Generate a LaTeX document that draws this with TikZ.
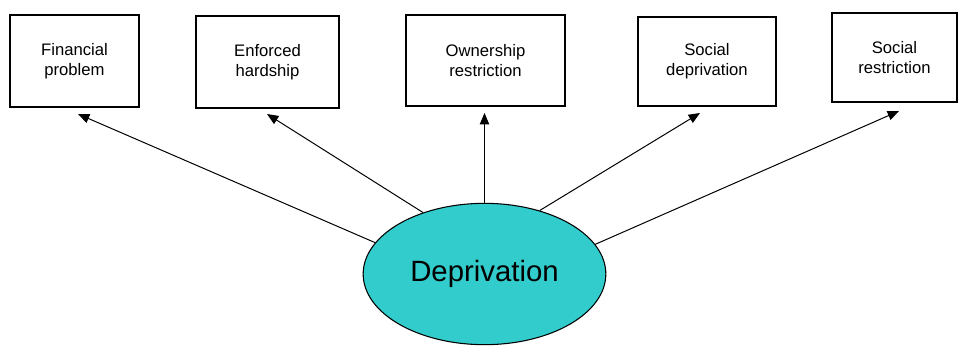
\documentclass[tikz,border=0pt]{standalone}
\usepackage{fontspec}
\setmainfont{Liberation Sans}
\usetikzlibrary{shapes.geometric, arrows.meta}
\definecolor{depfill}{HTML}{33CCCC}
\tikzset{
    factorbox/.style = {draw, line width = 0.9pt, align = center, inner sep = 0pt,
        font = \fontsize{12.5}{15}\selectfont},
    depnode/.style = {ellipse, draw, line width = 0.8pt, fill = depfill, inner sep = 0pt,
        minimum width = 182pt, minimum height = 106pt, font = \fontsize{22}{26}\selectfont},
    arrowline/.style = {line width = 0.75pt, -{Triangle[width = 7pt, length = 8.5pt]}}
}
\begin{document}
\begin{tikzpicture}[x = 0.75pt, y = -0.75pt]
        \useasboundingbox (0, 0) rectangle (958, 347);
        \node[depnode] (dep) at (484.5, 274) {Deprivation};
        \foreach \bx/\by/\bw/\bh/\bname/\btext in {
            74.5/61/129/92/fin/{Financial\\problem},
            267.5/62/143/92/enf/{Enforced\\hardship},
            485.5/60.5/159/91/own/{Ownership\\restriction},
            707/61.5/138/89/sdep/{Social\\deprivation},
            894.5/57.5/125/89/sres/{Social\\restriction}}{
            \node[factorbox, minimum width = 0.75*\bw pt, minimum height = 0.75*\bh pt] (\bname) at (\bx, \by) {\btext};
        }
        % arrow tips stop short of the boxes
        \coordinate (tfin) at (78, 114);
        \coordinate (tenf) at (267, 114);
        \coordinate (town) at (484.5, 113);
        \coordinate (tsdep) at (700, 113);
        \coordinate (tsres) at (899, 111);
        \foreach \ang/\tip in {164/tfin, 135.5/tenf, 90/town, 49.5/tsdep, 15.4/tsres}{
            \draw[arrowline] (dep.\ang) -- (\tip);
        }
    \end{tikzpicture}
\end{document}
